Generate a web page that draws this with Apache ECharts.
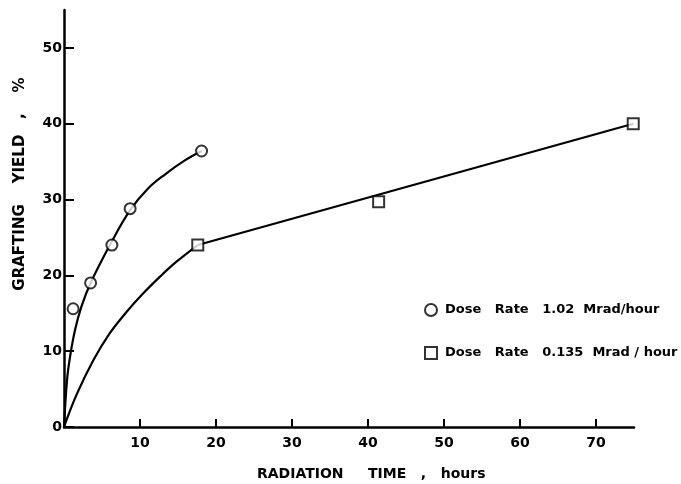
<!DOCTYPE html>
<html>
<head>
<meta charset="utf-8">
<script src="https://cdn.jsdelivr.net/npm/echarts@6/dist/echarts.min.js"></script>
<style>html,body{margin:0;padding:0;background:#fff;}#c{width:681px;height:484px;}</style>
</head>
<body>
<div id="c"></div>
<script>
// Measured points
const circleHours = [1.2, 3.5, 6.3, 8.7, 18.1];
const circleYield = [15.6, 19.0, 24.0, 28.8, 36.4];
const squareHours = [17.6, 41.4, 74.9];
const squareYield = [24.0, 29.7, 40.0];
// Hand-drawn curves
const circleCurveHours = [0, 0.4, 0.8, 1.45, 2.3, 3.5, 6.2, 8.7, 11.0, 13.4, 15.8, 18.1];
const circleCurveYield = [0, 6.2, 9.3, 12.8, 15.9, 19.0, 24.3, 28.6, 31.4, 33.4, 35.1, 36.4];
const squareCurveHours = [0, 1.67, 3.86, 6.05, 8.25, 10.4, 12.6, 14.8, 17.6];
const squareCurveYield = [0, 4.3, 8.8, 12.4, 15.2, 17.6, 19.8, 21.8, 24.0];
const squareLineHours = [17.6, 74.9];
const squareLineYield = [24.0, 40.0];
// Ticks
const xTicks = [10, 20, 30, 40, 50, 60, 70];
const yTicks = [0, 10, 20, 30, 40, 50];
const legendNames = ['Dose   Rate   1.02  Mrad/hour', 'Dose   Rate   0.135  Mrad / hour'];

const zip = (a, b) => a.map((v, i) => [v, b[i]]);
const FONT = 'DejaVu Sans';

const chart = echarts.init(document.getElementById('c'), null, {renderer: 'canvas'});
chart.setOption({
  backgroundColor: '#ffffff',
  animation: false,
  grid: {left: 64, right: 47, top: 10, bottom: 57},
  xAxis: {
    type: 'value', min: 0, max: 75,
    axisLine: {lineStyle: {color: '#000', width: 2.5}},
    axisTick: {inside: true, length: 8, lineStyle: {color: '#000', width: 2}, customValues: xTicks},
    axisLabel: {color: '#000', fontFamily: FONT, fontWeight: 'bold', fontSize: 14, margin: 9, customValues: xTicks},
    splitLine: {show: false}
  },
  yAxis: {
    type: 'value', min: 0, max: 55,
    axisLine: {lineStyle: {color: '#000', width: 2.5}},
    axisTick: {inside: true, length: 10, lineStyle: {color: '#000', width: 2}, customValues: yTicks},
    axisLabel: {color: '#000', fontFamily: FONT, fontWeight: 'bold', fontSize: 14, margin: 2, customValues: yTicks},
    splitLine: {show: false}
  },
  legend: {
    orient: 'vertical', left: 419, top: 297, itemGap: 27, itemWidth: 12, itemHeight: 12,
    data: legendNames,
    textStyle: {color: '#000', fontFamily: FONT, fontWeight: 'bold', fontSize: 13, lineHeight: 16, padding: [0, 0, 0, 3]}
  },
  graphic: [
    {type: 'text', left: 257, top: 467, style: {text: 'RADIATION     TIME   ,   hours', fontFamily: FONT, fontWeight: 'bold', fontSize: 14, fill: '#000'}},
    {type: 'text', x: 20, y: 184, rotation: Math.PI / 2, style: {text: 'GRAFTING    YIELD   ,    %', fontFamily: FONT, fontWeight: 'bold', fontSize: 15, fill: '#000', align: 'center', verticalAlign: 'middle'}}
  ],
  series: [
    {type: 'line', data: zip(circleCurveHours, circleCurveYield), smooth: 0.4, showSymbol: false, lineStyle: {color: '#000', width: 2.2}, z: 2},
    {type: 'line', data: zip(squareCurveHours, squareCurveYield), smooth: 0.4, showSymbol: false, lineStyle: {color: '#000', width: 2.2}, z: 2},
    {type: 'line', data: zip(squareLineHours, squareLineYield), showSymbol: false, lineStyle: {color: '#000', width: 2.2}, z: 2},
    {name: legendNames[0], type: 'scatter', data: zip(circleHours, circleYield), symbol: 'circle', symbolSize: 11,
     itemStyle: {color: '#fff', borderColor: '#000', borderWidth: 2}, z: 5},
    {name: legendNames[1], type: 'scatter', data: zip(squareHours, squareYield), symbol: 'rect', symbolSize: 11,
     itemStyle: {color: '#fff', borderColor: '#000', borderWidth: 2}, z: 5}
  ]
});
</script>
</body>
</html>
